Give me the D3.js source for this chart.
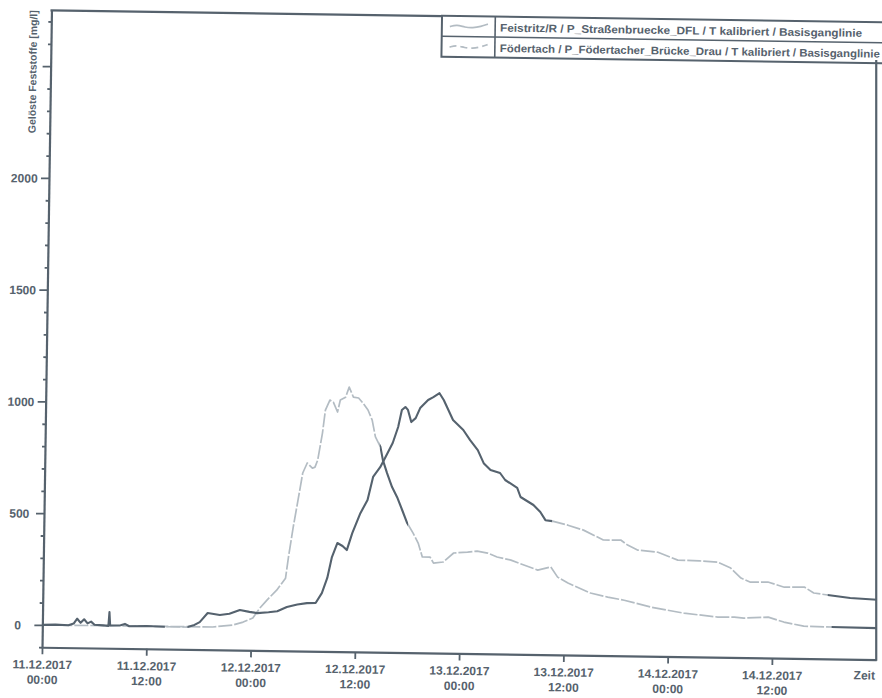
<!DOCTYPE html>
<html>
<head>
<meta charset="utf-8">
<script src="https://cdn.jsdelivr.net/npm/d3@7"></script>
<style>
  html, body { margin: 0; padding: 0; background: #fff; }
  svg { display: block; }
  text { font-family: "Liberation Sans", Arial, sans-serif; font-weight: bold; fill: #56626d; }
</style>
</head>
<body>
<svg id="chart" width="882" height="698"></svg>
<script>
// ---- data: suspended solids [mg/l], hours after 11.12.2017 00:00 ----
const startDate = new Date(2017, 11, 11, 0, 0);
const endDate = new Date(2017, 11, 15, 0, 0);

const seriesNames = [
  "Feistritz/R / P_Straßenbruecke_DFL / T kalibriert / Basisganglinie",
  "Födertach / P_Födertacher_Brücke_Drau / T kalibriert / Basisganglinie"
];

const feistritzHours = [0, 1.5, 3.0, 3.6, 4.0, 4.4, 4.8, 5.2, 5.6, 6.0, 7.0, 7.6, 7.7, 7.8, 9.0, 9.5, 10, 12, 14, 16.7,
  17.5, 18.1, 19.0, 20.4, 21.5, 22.7, 23.8, 24.7, 26.0, 27.0, 28.1, 29.3, 30.4, 31.4, 32.1, 32.7, 33.2, 33.8, 34.4, 34.9,
  35.5, 36.4, 37.2, 37.8, 38.6, 39.2, 40.0, 40.6, 41.0, 41.4, 41.7, 42.1, 42.6, 43.1, 44.0, 44.6, 45.3, 45.8, 46.9, 48.1,
  48.9, 49.8, 50.5, 51.3, 52.4, 53.0, 54.4, 54.8, 56.3, 57.1, 57.7, 58.5, 60.3, 62.1, 64.4, 66.4, 67.2, 68.4, 70.7, 73.0,
  75.5, 77.6, 79.1, 80.3, 81.4, 83.4, 85.3, 87.6, 88.7, 90.3, 92.9, 96];
const feistritzValues = [0, 2, 0, 8, 30, 12, 28, 10, 18, 4, 2, 0, 62, 2, 4, 10, 0, 2, 0, 0,
  10, 23, 64, 56, 62, 80, 72, 67, 72, 77, 96, 108, 115, 116, 161, 229, 323, 386, 373, 355,
  431, 521, 580, 684, 728, 774, 837, 909, 985, 999, 986, 932, 950, 995, 1032, 1045, 1063, 1033, 944, 900,
  855, 811, 753, 723, 710, 679, 645, 604, 569, 538, 502, 498, 481, 460, 417, 418, 396, 374, 366, 332,
  330, 326, 300, 256, 238, 240, 218, 220, 194, 186, 174, 168];

const foedertachHours = [0, 19.6, 21.9, 23.1, 24.2, 25.0, 25.8, 26.9, 27.9, 28.2, 28.7, 29.2, 29.7, 30.2, 30.8, 31.1,
  31.4, 31.9, 32.2, 32.7, 33.1, 33.6, 33.9, 34.5, 34.9, 35.4, 36.0, 36.5, 37.1, 37.6, 38.0, 38.6, 38.9, 39.4, 40.0,
  40.6, 41.2, 41.8, 42.5, 43.1, 43.6, 44.5, 44.9, 46.0, 47.2, 48.8, 49.9, 51.1, 52.2, 53.8, 55.3, 56.9, 58.4, 59.2,
  60.4, 63.0, 65.0, 66.9, 70.0, 73.8, 77.7, 79.6, 80.7, 83.5, 85.3, 87.6, 90.8, 96];
const foedertachValues = [0, 2, 12, 26, 45, 90, 126, 171, 225, 320, 455, 575, 697, 742, 719, 724,
  756, 877, 980, 1025, 1016, 972, 1026, 1039, 1084, 1040, 1036, 1014, 983, 938, 863, 818, 760, 702, 640,
  595, 538, 480, 435, 391, 329, 329, 302, 308, 349, 354, 359, 351, 334, 321, 300, 278, 293, 248,
  222, 179, 162, 149, 120, 95, 80, 81, 77, 83, 62, 45, 43, 41];

// print tone of each stretch of a curve (starting hour, tone)
const feistritzToneFrom = [0, 14.1, 16.7, 58.5, 90.3];
const feistritzTone = ["dark", "light", "dark", "light", "dark"];
const foedertachToneFrom = [0, 38.5, 41.9, 90.8];
const foedertachTone = ["light", "dark", "light", "dark"];

const yTickValues = [0, 500, 1000, 1500, 2000, 2500];
const yTickLabels = ["0", "500", "1000", "1500", "2000", ""];
const xTickHours = [0, 12, 24, 36, 48, 60, 72, 84];

// ---- layout ----
const W = 882, H = 698;
const plot = { left: 46.7, right: 881, top: 16.4, bottom: 653.4 };
const tilt = 0.85, pivot = [458, 335];
const colDark = "#55626e", colLight = "#b3bcc3", colAxis = "#56626d";

const toDate = h => new Date(startDate.getTime() + h * 3600e3);

const x = d3.scaleTime().domain([startDate, endDate]).range([plot.left, plot.right]);
const y = d3.scaleLinear().domain([-100, 2750]).range([plot.bottom, plot.top]);

const svg = d3.select("#chart");
const defs = svg.append("defs");
const g = svg.append("g").attr("transform", `rotate(${tilt},${pivot[0]},${pivot[1]})`);

function rotPoint(px, py) {
  const a = tilt * Math.PI / 180;
  return [pivot[0] + (px - pivot[0]) * Math.cos(a) - (py - pivot[1]) * Math.sin(a),
          pivot[1] + (px - pivot[0]) * Math.sin(a) + (py - pivot[1]) * Math.cos(a)];
}

// ---- curves, drawn stretch by stretch through clip strips ----
const line = d3.line().x(d => x(d.t)).y(d => y(d.v));

function drawSeries(id, hours, values, toneFrom, tone) {
  const pts = hours.map((h, i) => ({ t: toDate(h), v: values[i] }));
  toneFrom.forEach((h0, i) => {
    const h1 = i + 1 < toneFrom.length ? toneFrom[i + 1] : 96;
    const cid = `clip-${id}-${i}`;
    defs.append("clipPath").attr("id", cid)
      .append("rect")
      .attr("x", x(toDate(h0))).attr("y", 0)
      .attr("width", x(toDate(h1)) - x(toDate(h0))).attr("height", H);
    const dark = tone[i] === "dark";
    g.append("path")
      .datum(pts)
      .attr("clip-path", `url(#${cid})`)
      .attr("fill", "none")
      .attr("stroke", dark ? colDark : colLight)
      .attr("stroke-width", dark ? 2.1 : 1.7)
      .attr("stroke-dasharray", dark ? null : "14 2")
      .attr("stroke-linejoin", "round")
      .attr("d", line);
  });
}

drawSeries("foe", foedertachHours, foedertachValues, foedertachToneFrom, foedertachTone);
drawSeries("fei", feistritzHours, feistritzValues, feistritzToneFrom, feistritzTone);

// ---- y axis ----
const yMinor = d3.range(-100, 2750, 100).filter(v => v % 500 !== 0);
const yMinorAxis = g.append("g").attr("transform", `translate(${plot.left},0)`)
  .call(d3.axisLeft(y).tickValues(yMinor).tickSize(3).tickFormat(""));
yMinorAxis.select(".domain").remove();

const yAxis = g.append("g").attr("transform", `translate(${plot.left},0)`)
  .call(d3.axisLeft(y).tickValues(yTickValues).tickSize(8).tickSizeOuter(0)
    .tickFormat((d, i) => yTickLabels[i]));
yAxis.selectAll("text")
  .attr("x", 22 - plot.left).attr("dy", "0.36em")
  .attr("text-anchor", "middle")
  .style("font-size", "12px");

// ---- x axis ----
const fmtDate = d3.timeFormat("%d.%m.%Y");
const fmtTime = d3.timeFormat("%H:%M");
const xAxis = g.append("g").attr("transform", `translate(0,${plot.bottom})`)
  .call(d3.axisBottom(x).tickValues(xTickHours.map(toDate)).tickSize(7).tickSizeOuter(0).tickFormat(""));
xAxis.selectAll(".tick").each(function (d) {
  const t = d3.select(this).append("text")
    .attr("text-anchor", "middle")
    .style("font-size", "12px");
  t.append("tspan").attr("x", 0).attr("y", 21.5).text(fmtDate(d));
  t.append("tspan").attr("x", 0).attr("y", 36.5).text(fmtTime(d));
});

[yMinorAxis, yAxis, xAxis].forEach(a => {
  a.selectAll("line").attr("stroke", colAxis).attr("stroke-width", 1.8);
  a.selectAll(".domain").attr("stroke", colAxis).attr("stroke-width", 2.2);
});

// ---- frame ----
const legendLeft = 437.3, legendTop = plot.top - 0.4, legendRow = 20.5, legendSym = 53.3;
g.append("line")
  .attr("x1", plot.left - 1).attr("x2", legendLeft)
  .attr("y1", plot.top).attr("y2", plot.top)
  .attr("stroke", colAxis).attr("stroke-width", 2.2);

// the right border is drawn upright on the page, from the end of the time axis
const br = rotPoint(x(endDate), plot.bottom);
svg.append("line")
  .attr("x1", br[0]).attr("x2", br[0])
  .attr("y1", 60).attr("y2", br[1] + 1)
  .attr("stroke", colAxis).attr("stroke-width", 2.2);

// ---- axis titles ----
g.append("text")
  .attr("transform", `translate(32.5,78) rotate(-90)`)
  .attr("text-anchor", "middle")
  .attr("textLength", 123).attr("lengthAdjust", "spacingAndGlyphs")
  .style("font-size", "10.5px")
  .text("Gelöste Feststoffe [mg/l]");

g.append("text")
  .attr("x", plot.right - 1).attr("y", plot.bottom + 20)
  .attr("text-anchor", "end")
  .style("font-size", "12px")
  .text("Zeit");

// ---- legend ----
const lg = g.append("g").attr("transform", `translate(${legendLeft},${legendTop})`);
lg.append("rect")
  .attr("x", 0).attr("y", 0).attr("width", 470).attr("height", legendRow * 2)
  .attr("fill", "#fff").attr("stroke", colAxis).attr("stroke-width", 2);
lg.append("line").attr("x1", 0).attr("x2", 470).attr("y1", legendRow).attr("y2", legendRow)
  .attr("stroke", colAxis).attr("stroke-width", 1.6);
lg.append("line").attr("x1", legendSym).attr("x2", legendSym).attr("y1", 0).attr("y2", legendRow * 2)
  .attr("stroke", colAxis).attr("stroke-width", 1.6);

const wave = d3.line().curve(d3.curveBasis);
const waveShape = [[8, 0], [15, -2], [23, 0.5], [31, 1], [39, -0.5], [46, -3]];
[0, 1].forEach(i => {
  const cy = legendRow * i + legendRow / 2 + 0.5;
  lg.append("path")
    .attr("d", wave(waveShape.map(p => [p[0], cy + p[1]])))
    .attr("fill", "none").attr("stroke", colLight).attr("stroke-width", 1.7)
    .attr("stroke-dasharray", i === 1 ? "7 4" : null);
  lg.append("text")
    .attr("x", legendSym + 5).attr("y", cy + 4.2)
    .attr("textLength", i === 0 ? 362 : 380).attr("lengthAdjust", "spacingAndGlyphs")
    .style("font-size", "11px")
    .text(seriesNames[i]);
});
</script>
</body>
</html>
